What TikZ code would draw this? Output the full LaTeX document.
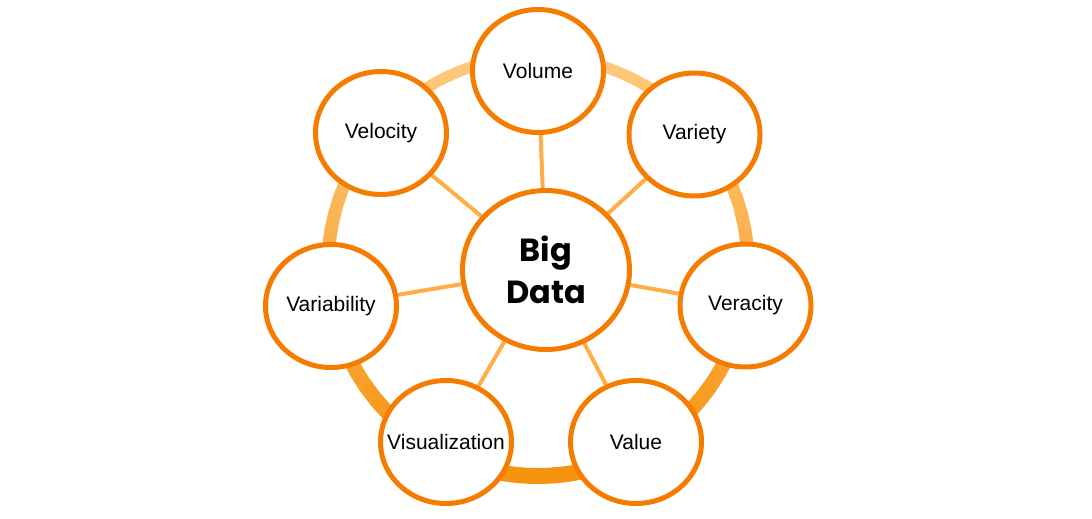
\documentclass[tikz,border=0pt]{standalone}
\usepackage{fontspec}
\setmainfont{Liberation Sans}
\newfontfamily\headfont{Poppins}
\usetikzlibrary{shapes.geometric, backgrounds}
\definecolor{nodeline}{HTML}{F57C00}
\definecolor{spoke}{HTML}{FFAD45}
\definecolor{ringlight}{HTML}{FFC97C}
\definecolor{ringdark}{HTML}{F5920E}

\begin{document}
\begin{tikzpicture}[x=0.5pt, y=-0.5pt,
    vnode/.style={ellipse, draw=nodeline, line width=2.5pt, fill=white, minimum width=65.5pt, minimum height=61.5pt, inner ysep=0pt, inner xsep=-14pt, font=\fontsize{10.5}{12}\selectfont},
    hub/.style={vnode, minimum width=83.5pt, minimum height=79.5pt, align=center, font=\headfont\bfseries\fontsize{16}{21}\selectfont},
    link/.style={draw=spoke, line width=2pt}]
    \useasboundingbox (0,0) rectangle (1092,519);
    \node[hub] (big) at (546,270) {Big\\Data};
    \node[vnode] (volume) at (538,71) {Volume};
    \node[vnode] (velocity) at (381,133) {Velocity};
    \node[vnode] (variety) at (694.5,134.5) {Variety};
    \node[vnode] (variability) at (331,306) {Variability};
    \node[vnode] (veracity) at (745.5,305.5) {Veracity};
    \node[vnode] (visual) at (446,442) {Visualization};
    \node[vnode] (value) at (636,442) {Value};
    % ring and spokes behind the circles
    \begin{scope}[on background layer]
        \foreach \a in {0,5,...,355} {
            \pgfmathtruncatemacro{\t}{50*(1+sin(\a+2.5))}
            \pgfmathsetmacro{\w}{5.5+0.025*\t}
            \pgfmathsetmacro{\b}{\a+5.5}
            \draw[line width=\w pt, ringdark!\t!ringlight] plot[domain=\a:\b, samples=4] ({538+210*cos(\x)}, {266+210*sin(\x)});
        }
        \foreach \v in {volume, velocity, variety, variability, veracity, visual, value}
            \draw[link] (big) -- (\v);
    \end{scope}
\end{tikzpicture}
\end{document}
